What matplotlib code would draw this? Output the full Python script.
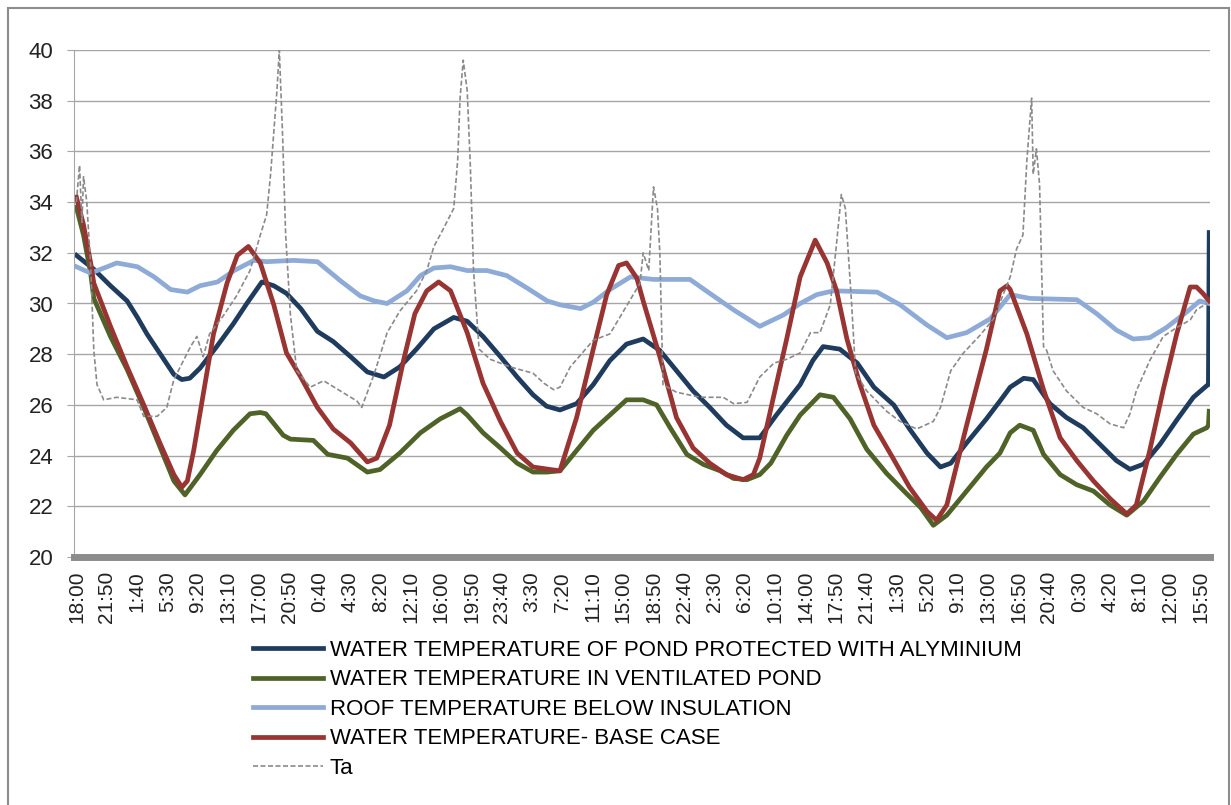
import matplotlib
matplotlib.use("Agg")
import matplotlib.pyplot as plt
from matplotlib.patches import Rectangle

plt.rcParams['font.family'] = ['Liberation Sans', 'DejaVu Sans']

# hours after the first reading (18:00); axis labelled every 3 h 50 min
tick_labels = ['18:00', '21:50', '1:40', '5:30', '9:20', '13:10', '17:00', '20:50',
               '0:40', '4:30', '8:20', '12:10', '16:00', '19:50', '23:40', '3:30',
               '7:20', '11:10', '15:00', '18:50', '22:40', '2:30', '6:20', '10:10',
               '14:00', '17:50', '21:40', '1:30', '5:20', '9:10', '13:00', '16:50',
               '20:40', '0:30', '4:20', '8:10', '12:00', '15:50']
tick_step_h = 230 / 60

# (hour, temperature)
alu_pts = [(0.0, 31.9), (1.8, 31.45), (2.2, 31.35), (4.3, 30.7), (6.4, 30.1), (7.7, 29.45),
           (8.9, 28.8), (10.6, 28.0), (12.3, 27.2), (13.3, 27.0), (14.3, 27.05), (15.6, 27.45),
           (17.7, 28.3), (19.8, 29.2), (21.5, 30.0), (23.4, 30.85), (24.9, 30.7), (26.5, 30.4),
           (28.3, 29.8), (30.4, 28.9), (32.4, 28.5), (34.6, 27.9), (36.7, 27.3), (38.8, 27.1),
           (40.8, 27.5), (42.9, 28.2), (45.1, 29.0), (47.6, 29.45), (49.3, 29.3), (51.3, 28.7),
           (53.5, 27.9), (55.6, 27.1), (57.6, 26.4), (59.3, 25.95), (61.0, 25.8), (63.1, 26.05),
           (65.2, 26.8), (67.3, 27.75), (69.4, 28.4), (71.5, 28.6), (73.6, 28.15), (75.7, 27.35),
           (77.8, 26.55), (79.9, 25.9), (82.0, 25.2), (84.1, 24.7), (86.2, 24.7), (88.3, 25.6),
           (91.3, 26.8), (92.9, 27.75), (94.2, 28.3), (96.3, 28.2), (98.5, 27.65), (100.6, 26.7),
           (103.1, 26.0), (105.1, 25.05), (107.3, 24.1), (109.0, 23.55), (110.3, 23.7),
           (112.3, 24.5), (114.8, 25.45), (116.5, 26.15), (117.8, 26.7), (119.5, 27.05),
           (120.7, 27.0), (122.8, 26.05), (124.9, 25.5), (127.0, 25.1), (129.1, 24.45),
           (131.2, 23.8), (132.9, 23.46), (134.6, 23.66), (136.7, 24.45), (138.8, 25.4),
           (140.9, 26.3), (142.6, 26.76), (142.8, 26.8), (142.9, 32.8)]

vent_pts = [(0.0, 33.8), (0.9, 32.7), (1.8, 31.2), (2.2, 30.2), (4.3, 28.7), (6.4, 27.4),
            (8.5, 25.9), (10.6, 24.3), (12.3, 23.0), (13.7, 22.45), (15.6, 23.25), (17.7, 24.2),
            (19.8, 25.0), (21.9, 25.65), (23.2, 25.7), (23.9, 25.65), (26.1, 24.8), (27.0, 24.65),
            (29.9, 24.6), (31.7, 24.05), (34.2, 23.9), (36.7, 23.35), (38.3, 23.45), (40.8, 24.1),
            (43.4, 24.9), (45.9, 25.45), (48.4, 25.85), (49.3, 25.6), (51.3, 24.9), (53.5, 24.3),
            (55.6, 23.7), (57.6, 23.35), (59.4, 23.35), (61.0, 23.4), (63.1, 24.2), (65.2, 25.0),
            (67.3, 25.6), (69.4, 26.2), (71.5, 26.2), (73.2, 26.0), (74.9, 25.1), (77.0, 24.05),
            (79.1, 23.65), (81.2, 23.4), (82.9, 23.1), (84.6, 23.05), (86.2, 23.25), (87.6, 23.7),
            (89.6, 24.8), (91.3, 25.6), (93.8, 26.4), (95.5, 26.3), (97.6, 25.45), (99.7, 24.25),
            (102.2, 23.3), (104.4, 22.6), (106.5, 21.95), (108.1, 21.25), (109.8, 21.65),
            (112.3, 22.6), (114.8, 23.55), (116.5, 24.1), (117.8, 24.9), (119.0, 25.2),
            (120.7, 25.0), (122.0, 24.05), (124.1, 23.25), (126.2, 22.85), (128.3, 22.6),
            (130.4, 22.05), (132.5, 21.65), (134.6, 22.2), (136.7, 23.15), (138.8, 24.05),
            (140.9, 24.85), (142.6, 25.1), (142.8, 25.2), (142.9, 25.75)]

roof_pts = [(0.0, 31.45), (1.8, 31.2), (3.9, 31.45), (5.1, 31.6), (7.7, 31.45), (9.8, 31.05),
            (11.9, 30.55), (14.0, 30.45), (15.6, 30.7), (17.8, 30.85), (19.9, 31.3), (22.4, 31.7),
            (24.0, 31.65), (27.4, 31.7), (30.4, 31.65), (33.3, 30.9), (35.8, 30.3), (37.6, 30.1),
            (39.2, 30.0), (41.7, 30.5), (43.4, 31.1), (45.1, 31.4), (47.2, 31.45), (49.3, 31.3),
            (51.8, 31.3), (54.3, 31.1), (56.9, 30.6), (59.4, 30.1), (61.0, 29.95), (63.6, 29.8),
            (65.2, 30.05), (67.3, 30.55), (69.9, 31.05), (72.8, 30.95), (77.4, 30.95),
            (79.9, 30.4), (82.9, 29.75), (86.2, 29.1), (89.2, 29.55), (91.3, 30.0), (93.4, 30.35),
            (95.5, 30.5), (101.0, 30.45), (103.9, 29.95), (107.3, 29.15), (109.8, 28.65),
            (112.3, 28.85), (115.3, 29.4), (117.8, 30.35), (120.3, 30.2), (126.2, 30.15),
            (128.7, 29.6), (131.2, 28.95), (133.3, 28.6), (135.4, 28.65), (137.5, 29.05),
            (140.0, 29.65), (141.7, 30.1), (142.9, 30.0)]

base_pts = [(0.0, 34.2), (0.9, 33.1), (1.8, 31.6), (2.2, 30.8), (4.3, 29.1), (6.4, 27.5),
            (8.5, 26.0), (10.6, 24.45), (12.3, 23.25), (13.3, 22.75), (14.0, 23.0), (14.8, 24.2),
            (16.1, 26.6), (17.3, 28.8), (19.0, 30.8), (20.3, 31.9), (21.7, 32.25), (23.2, 31.6),
            (24.9, 29.95), (26.5, 28.05), (28.3, 27.1), (30.4, 25.9), (32.4, 25.05), (34.6, 24.5),
            (36.7, 23.75), (37.9, 23.9), (39.5, 25.2), (41.3, 27.8), (42.7, 29.6), (44.2, 30.5),
            (45.7, 30.85), (47.2, 30.5), (49.3, 28.85), (51.3, 26.85), (53.5, 25.35), (55.6, 24.1),
            (57.6, 23.55), (59.8, 23.45), (61.0, 23.4), (63.1, 25.5), (65.2, 28.2), (66.9, 30.35),
            (68.4, 31.5), (69.4, 31.6), (70.7, 31.0), (71.5, 30.1), (73.6, 27.9), (75.7, 25.5),
            (77.8, 24.3), (79.9, 23.7), (82.0, 23.25), (84.1, 23.05), (85.4, 23.25), (86.2, 23.9),
            (88.0, 26.4), (89.6, 28.6), (91.3, 31.05), (93.2, 32.5), (94.7, 31.6), (95.9, 30.5),
            (97.2, 28.6), (98.8, 26.85), (100.6, 25.2), (103.1, 23.85), (105.1, 22.75),
            (107.3, 21.8), (108.5, 21.45), (109.8, 22.05), (112.3, 25.2), (114.8, 28.2),
            (116.5, 30.5), (117.4, 30.7), (117.8, 30.55), (119.9, 28.8), (122.0, 26.6),
            (124.1, 24.7), (126.2, 23.8), (128.3, 23.0), (130.4, 22.3), (132.5, 21.7),
            (133.7, 22.05), (135.4, 24.2), (137.1, 26.6), (138.8, 28.8), (140.5, 30.65),
            (141.3, 30.65), (142.1, 30.4), (142.9, 30.1)]

ta_pts = [(0.0, 34.0), (0.4, 35.45), (0.7, 33.2), (0.9, 35.0), (1.3, 34.05), (1.8, 31.5),
          (2.2, 28.15), (2.6, 26.8), (3.45, 26.2), (5.1, 26.3), (7.65, 26.2), (8.5, 25.55),
          (10.2, 25.55), (11.4, 25.9), (12.3, 27.0), (14.4, 28.3), (15.2, 28.7), (16.0, 27.9),
          (16.8, 28.8), (18.5, 29.5), (20.2, 30.3), (21.9, 31.3), (23.2, 32.7), (24.0, 33.5),
          (24.5, 35.1), (24.9, 36.75), (25.3, 38.4), (25.6, 40.0), (26.0, 36.75), (26.4, 32.7),
          (27.0, 29.55), (27.8, 27.35), (29.5, 26.7), (31.2, 26.95), (33.3, 26.55), (35.4, 26.15),
          (36.0, 25.9), (37.6, 27.25), (39.2, 28.85), (40.8, 29.7), (42.9, 30.5), (44.2, 31.3),
          (45.1, 32.25), (46.3, 32.95), (47.6, 33.75), (48.1, 35.65), (48.4, 38.1), (48.8, 39.6),
          (49.3, 38.4), (49.7, 35.4), (50.1, 31.3), (50.8, 28.2), (52.2, 27.8), (54.7, 27.5),
          (57.6, 27.25), (59.0, 26.85), (60.2, 26.6), (61.0, 26.7), (62.3, 27.5), (65.2, 28.55),
          (67.3, 28.8), (69.4, 29.9), (71.1, 30.8), (71.5, 32.0), (72.2, 31.3), (72.8, 34.6),
          (73.3, 33.75), (73.6, 32.0), (74.0, 26.8), (75.7, 26.5), (78.7, 26.3), (81.6, 26.3),
          (82.9, 26.05), (84.6, 26.1), (86.2, 27.1), (88.0, 27.65), (89.6, 27.8), (91.3, 28.05),
          (92.6, 28.85), (93.8, 28.85), (95.1, 29.95), (95.9, 32.4), (96.5, 34.3), (97.0, 33.75),
          (97.4, 31.85), (97.8, 29.95), (98.3, 27.25), (99.7, 26.55), (102.2, 25.75),
          (103.9, 25.35), (106.0, 25.05), (108.1, 25.35), (109.0, 25.9), (110.3, 27.35),
          (111.9, 28.05), (114.0, 28.75), (115.7, 29.4), (117.8, 31.05), (118.6, 32.15),
          (119.4, 32.7), (119.9, 35.65), (120.5, 38.1), (120.7, 35.1), (121.1, 36.1),
          (121.5, 34.7), (122.0, 28.3), (122.4, 28.15), (123.2, 27.35), (124.9, 26.55),
          (127.0, 25.9), (128.7, 25.65), (130.4, 25.25), (132.1, 25.1), (132.9, 25.65),
          (133.7, 26.55), (135.4, 27.75), (137.1, 28.7), (138.8, 29.05), (140.5, 29.35),
          (141.3, 29.75), (142.6, 30.0)]

series = [
    (alu_pts, '#1f3b5e', 3.4, '-', 'WATER TEMPERATURE OF POND PROTECTED WITH ALYMINIUM'),
    (vent_pts, '#4f6228', 3.4, '-', 'WATER TEMPERATURE IN VENTILATED POND'),
    (roof_pts, '#8eaad6', 3.4, '-', 'ROOF TEMPERATURE BELOW INSULATION'),
    (base_pts, '#983432', 3.4, '-', 'WATER TEMPERATURE- BASE CASE'),
    (ta_pts, '#8a8a8a', 1.2, (0, (3, 1.5)), 'Ta'),
]

W, H = 1231, 805
fig = plt.figure(figsize=(W / 100, H / 100), dpi=100)
fig.patches.append(Rectangle((8 / W, -0.05), (W - 10) / W, 1.05 - 8 / H,
                             transform=fig.transFigure, fill=False,
                             edgecolor='#8c8c8c', linewidth=1.5))

ax = fig.add_axes([74 / W, 1 - 557 / H, (1210 - 74) / W, (557 - 50) / H])

for pts, color, lw, ls, label in series:
    t, v = zip(*pts)
    ax.plot(t, v, color=color, lw=lw, linestyle=ls, solid_joinstyle='round', label=label)

ax.set_xlim(-0.3, 143.0)
ax.set_ylim(20, 40)
ax.set_yticks(range(20, 41, 2))
ax.set_xticks([k * tick_step_h for k in range(len(tick_labels))])
ax.set_xticklabels(tick_labels, rotation=90)
ax.grid(axis='y', color='#a6a6a6', linewidth=1.0)
ax.set_axisbelow(True)

for s in ['top', 'right']:
    ax.spines[s].set_visible(False)
ax.spines['left'].set_color('#a6a6a6')
ax.spines['bottom'].set_color('#8c8c8c')
ax.spines['bottom'].set_linewidth(5)
ax.tick_params(axis='y', length=5, color='#a6a6a6', pad=10, labelsize=16, labelcolor='#222222')
ax.tick_params(axis='x', length=0, pad=10, labelsize=15, labelcolor='#222222')

fig.legend(loc='upper left', bbox_to_anchor=(253 / W, 1 - 640 / H), frameon=False,
           fontsize=16, handlelength=3.15, handletextpad=0.3, labelspacing=0.38,
           borderpad=0, borderaxespad=0)

fig.savefig('out.png', dpi=100)
